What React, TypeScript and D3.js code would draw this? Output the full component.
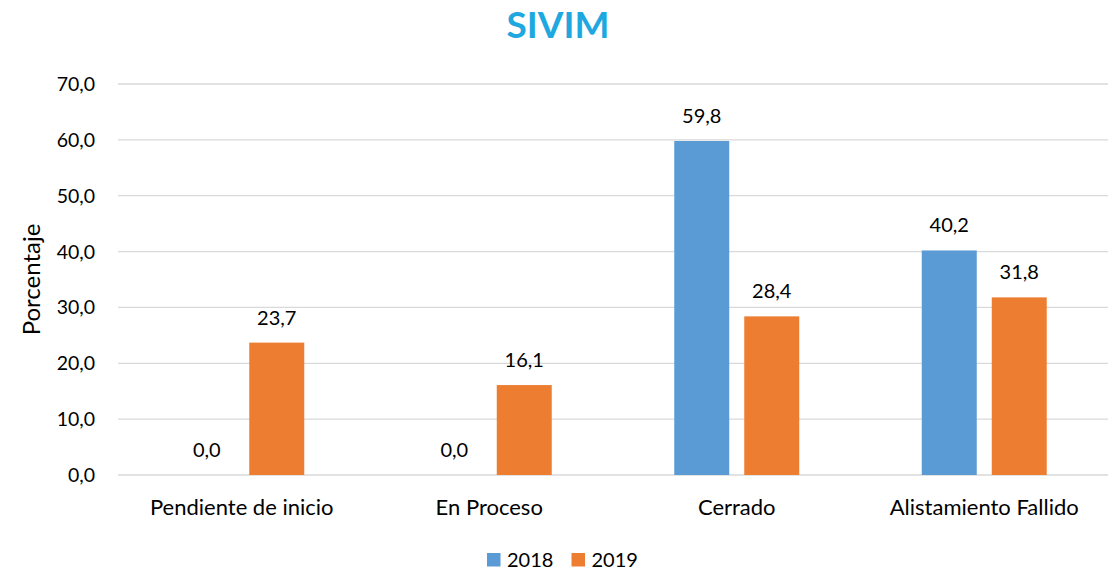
import React from 'react';
import * as d3 from 'd3';

const categories = ['Pendiente de inicio', 'En Proceso', 'Cerrado', 'Alistamiento Fallido'];
const series = ['2018', '2019'];
const values2018 = [0.0, 0.0, 59.8, 40.2];
const values2019 = [23.7, 16.1, 28.4, 31.8];
const yTicks = [0, 10, 20, 30, 40, 50, 60, 70];
const colors = ['#5B9BD5', '#ED7D31'];

const width = 1113;
const height = 572;
const font = 'Lato, "Open Sans", sans-serif';

const fmt = (v: number) => v.toFixed(1).replace('.', ',');

const App = () => {
  const margin = { left: 118, right: 5, top: 84, bottom: 97 };
  const plotRight = width - margin.right;
  const plotBottom = height - margin.bottom;

  const x = d3.scaleBand().domain(categories).range([margin.left, plotRight]).paddingInner(0).paddingOuter(0);
  const inner = d3.scaleBand().domain(series).range([0, 125]).paddingInner(15 / 70).paddingOuter(0);
  const y = d3.scaleLinear().domain([0, 70]).range([plotBottom, margin.top]);

  const groupOffset = (x.bandwidth() - 125) / 2;
  const data = [values2018, values2019];

  return (
    <svg width={width} height={height} style={{ display: 'block', position: 'absolute', left: 0, top: 0 }} fontFamily={font}>
      <rect width={width} height={height} fill="#fff" />
      <text x={558} y={38} textAnchor="middle" fontSize={37} fontWeight="bold" fill="#1FA8E0">SIVIM</text>

      {yTicks.map(t => (
        <g key={t}>
          <line x1={margin.left} x2={plotRight} y1={y(t)} y2={y(t)} stroke="#D9D9D9" strokeWidth={1.3} />
          <text x={95} y={y(t)} dy="0.36em" textAnchor="end" fontSize={19.5} fill="#000">{fmt(t)}</text>
        </g>
      ))}

      <text transform={`translate(40, ${(margin.top + plotBottom) / 2}) rotate(-90)`} textAnchor="middle" fontSize={24} fill="#000">Porcentaje</text>

      {categories.map((c, i) => (
        <g key={c}>
          {series.map((s, j) => {
            const v = data[j][i];
            const bx = (x(c) as number) + groupOffset + (inner(s) as number);
            const bw = inner.bandwidth();
            return (
              <g key={s}>
                {v > 0 && <rect x={bx} y={y(v)} width={bw} height={y(0) - y(v)} fill={colors[j]} />}
                <text x={bx + bw / 2} y={y(v) - 18} textAnchor="middle" fontSize={20} fill="#000">{fmt(v)}</text>
              </g>
            );
          })}
          <text x={(x(c) as number) + x.bandwidth() / 2} y={515} textAnchor="middle" fontSize={22} fill="#000">{c}</text>
        </g>
      ))}

      {series.map((s, j) => (
        <g key={s} transform={`translate(${487 + j * 84.5}, 0)`}>
          <rect x={0} y={553} width={13.5} height={13.5} fill={colors[j]} />
          <text x={20} y={567} fontSize={20} fill="#000">{s}</text>
        </g>
      ))}
    </svg>
  );
};

export default App;
